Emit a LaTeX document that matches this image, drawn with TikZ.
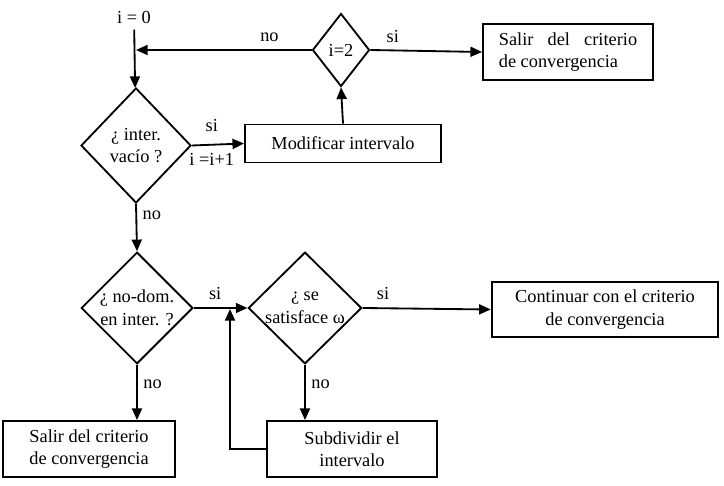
\documentclass[tikz,border=0pt]{standalone}
\usepackage{fontspec}
\setmainfont{Liberation Serif}
\usetikzlibrary{shapes.geometric,arrows.meta}
\begin{document}
\begin{tikzpicture}[x=.6pt,y=-.6pt,font=\fontsize{11}{13.5}\selectfont,line width=1.1pt,
 box/.style={draw,rectangle,inner sep=0pt,align=center},
 decision/.style={draw,diamond,inner sep=0pt,align=center},
 conn/.style={-{Triangle[length=7pt,width=6pt]}}]
\useasboundingbox (0,0) rectangle (724,486);
% nodes
\node (i0) at (134,17){i = 0};
\node[decision,minimum width=66pt,minimum height=69pt] (vacio) at (136,145.5){¿ inter.\\vacío ?};
\node[box,minimum width=117.6pt,minimum height=22.8pt] (modif) at (343,143.5){Modificar intervalo};
\node[decision,minimum width=34.2pt,minimum height=43.8pt] (idos) at (341,50){i=2};
\node[box,minimum width=102pt,minimum height=34pt,align=left] (salirA) at (568,52){\makebox[83pt][s]{Salir del criterio}\\de convergencia};
\node[decision,minimum width=67pt,minimum height=67pt] (nodom) at (137,308){¿ no-dom.\\en inter. ?};
\node[decision,minimum width=68pt,minimum height=67pt] (omega) at (305,308){¿ se\\satisface ω};
\node[box,minimum width=136pt,minimum height=33pt] (cont) at (605,309.5){Continuar con el criterio\\de convergencia};
\node[box,minimum width=103pt,minimum height=33.6pt] (salirB) at (89,449){Salir del criterio\\de convergencia};
\node[box,minimum width=102pt,minimum height=33.6pt] (subdiv) at (352,449){Subdividir el\\intervalo};
\coordinate (j) at (136,50);\coordinate (k) at (230,309);
% connectors
\draw[conn] (i0) -- (vacio);
\draw[conn] (idos.west) -- (j) node[pos=.24,above=1pt]{no};
\draw[conn] (idos.east) -- (salirA.west) node[pos=.2,above=1pt]{si};
\draw[conn] (vacio.east) -- (modif.west) node[pos=.38,above=4pt]{si} node[pos=.38,below=1pt]{i =i+1};
\draw[conn] (modif.north) -- (idos.south);
\draw[conn] (vacio.south) -- (nodom.north) node[pos=.25,right]{no};
\draw[conn] (nodom.east) -- (omega.west) node[pos=.4,above=1pt]{si};
\draw[conn] (omega.east) -- (cont.west) node[pos=.16,above=1pt]{si};
\draw[conn] (nodom.south) -- (nodom.south |- salirB.north) node[pos=.35,right]{no};
\draw[conn] (omega.south) -- (omega.south |- subdiv.north) node[pos=.35,right]{no};
\draw[conn] (subdiv.west) -| (k);
\end{tikzpicture}
\end{document}
